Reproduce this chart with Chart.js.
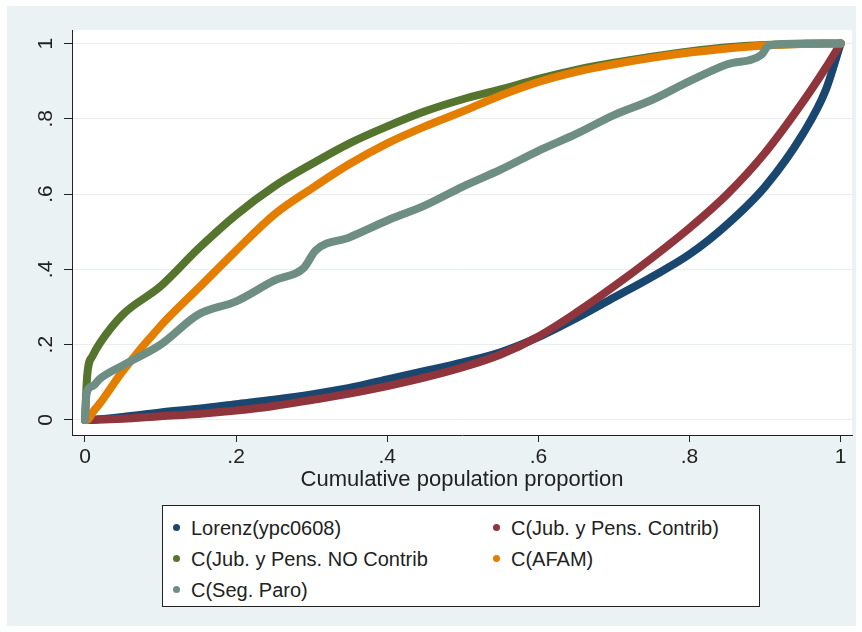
<!DOCTYPE html>
<html>
<head>
<meta charset="utf-8">
<script src="https://cdn.jsdelivr.net/npm/chart.js@4.4.1/dist/chart.umd.min.js"></script>
<style>
  body { margin: 0; background: #fff; }
  #wrap { position: relative; width: 862px; height: 632px; }
  #myChart { position: absolute; left: 0; top: 0; }
  #legend {
    position: absolute; left: 162px; top: 505px; width: 598px; height: 102px;
    box-sizing: border-box; border: 1px solid #222; background: #fff;
    font-family: "Liberation Sans", Arial, sans-serif; font-size: 20px; color: #222;
  }
  .item { position: absolute; height: 24px; line-height: 24px; white-space: nowrap; }
  .dot { position: absolute; left: -18px; top: 8px; width: 7px; height: 7px; border-radius: 50%; }
</style>
</head>
<body>
<div id="wrap">
  <canvas id="myChart" width="862" height="632"></canvas>
  <div id="legend"></div>
</div>
<script>
// cumulative population share (x) and concentration curve values (y)
const popShare = [0, 0.003, 0.01, 0.02, 0.05, 0.1, 0.15, 0.2, 0.25, 0.3, 0.35, 0.4, 0.45, 0.5,
  0.55, 0.6, 0.65, 0.7, 0.75, 0.8, 0.85, 0.9, 0.95, 0.98, 1];

const lorenzY = [0, 0, 0.001, 0.002, 0.008, 0.02, 0.03, 0.042, 0.054, 0.068, 0.085, 0.108, 0.13, 0.153,
  0.18, 0.22, 0.27, 0.325, 0.38, 0.44, 0.52, 0.62, 0.76, 0.875, 1];
const contribY = [0, 0, 0, 0.001, 0.003, 0.01, 0.016, 0.025, 0.037, 0.053, 0.07, 0.09, 0.113, 0.14,
  0.174, 0.222, 0.285, 0.355, 0.43, 0.51, 0.6, 0.71, 0.845, 0.935, 1];
const noContribY = [0, 0.12, 0.17, 0.205, 0.28, 0.355, 0.455, 0.545, 0.62, 0.68, 0.735, 0.78, 0.82, 0.852,
  0.878, 0.906, 0.93, 0.949, 0.965, 0.979, 0.99, 0.996, 0.999, 1, 1];
const afamY = [0, 0, 0.02, 0.045, 0.13, 0.25, 0.35, 0.45, 0.545, 0.615, 0.68, 0.735, 0.78, 0.82,
  0.862, 0.898, 0.925, 0.945, 0.962, 0.976, 0.987, 0.995, 0.999, 1, 1];

// Seg. Paro has its own steps
const segParoX = [0, 0.002, 0.01, 0.02, 0.05, 0.1, 0.15, 0.2, 0.25, 0.29, 0.305, 0.35, 0.4, 0.45, 0.5,
  0.55, 0.6, 0.65, 0.7, 0.75, 0.8, 0.85, 0.895, 0.905, 0.95, 1];
const segParoY = [0, 0.07, 0.09, 0.11, 0.145, 0.2, 0.28, 0.315, 0.37, 0.405, 0.45, 0.485, 0.53, 0.57, 0.62,
  0.665, 0.715, 0.76, 0.81, 0.85, 0.9, 0.945, 0.97, 0.995, 1, 1];

const tickVals = [0, 0.2, 0.4, 0.6, 0.8, 1];
const tickLabels = ["0", ".2", ".4", ".6", ".8", "1"];

const seriesNames = ["Lorenz(ypc0608)", "C(Jub. y Pens. Contrib)", "C(Jub. y Pens. NO Contrib",
  "C(AFAM)", "C(Seg. Paro)"];
const seriesColors = ["#1a476f", "#90353b", "#55752f", "#e37e00", "#6e8e84"];

const FONT = '"Liberation Sans", Arial, sans-serif';

function pts(xs, ys) {
  return xs.map((x, i) => ({ x: x, y: ys[i] }));
}

const seriesData = [
  pts(popShare, lorenzY),
  pts(popShare, contribY),
  pts(popShare, noContribY),
  pts(popShare, afamY),
  pts(segParoX, segParoY)
];

// background panel + white plot region
const panelBg = {
  id: "panelBg",
  beforeDraw(chart) {
    const c = chart.ctx, a = chart.chartArea;
    c.save();
    c.fillStyle = "#fff";
    c.fillRect(0, 0, chart.width, chart.height);
    c.fillStyle = "#eaf2f3";
    c.fillRect(7, 6, 849, 620);
    c.fillStyle = "#fff";
    c.fillRect(a.left, a.top, a.right - a.left, a.bottom - a.top);
    c.restore();
  }
};

// y tick labels are vertical in the original
const yLabels = {
  id: "yLabels",
  afterDraw(chart) {
    const c = chart.ctx, ys = chart.scales.y;
    c.save();
    c.fillStyle = "#222";
    c.font = "21px " + FONT;
    c.textAlign = "center";
    c.textBaseline = "middle";
    tickVals.forEach((v, i) => {
      c.save();
      c.translate(46, ys.getPixelForValue(v));
      c.rotate(-Math.PI / 2);
      c.fillText(tickLabels[i], 0, 0);
      c.restore();
    });
    c.restore();
  }
};

const ctx = document.getElementById("myChart").getContext("2d");

const myChart = new Chart(ctx, {
  type: "line",
  data: {
    datasets: seriesData.map((d, i) => ({
      label: seriesNames[i],
      data: d,
      borderColor: seriesColors[i],
      backgroundColor: seriesColors[i],
      borderWidth: 8,
      pointRadius: 0,
      fill: false,
      cubicInterpolationMode: "monotone",
      borderCapStyle: "round",
      borderJoinStyle: "round",
      order: 5 - i
    }))
  },
  options: {
    responsive: false,
    animation: false,
    layout: { padding: { left: 0, top: 30, right: 10, bottom: 137 } },
    plugins: { legend: { display: false }, tooltip: { enabled: false } },
    scales: {
      x: {
        type: "linear",
        min: -0.0172,
        max: 1.015,
        afterBuildTicks: (s) => { s.ticks = tickVals.map(v => ({ value: v })); },
        afterFit: (s) => { s.height = 60; },
        ticks: {
          callback: (v) => tickLabels[tickVals.indexOf(v)],
          color: "#222",
          font: { family: FONT, size: 21 },
          padding: 3,
          maxRotation: 0
        },
        grid: { drawOnChartArea: false, tickColor: "#222", tickLength: 7 },
        border: { color: "#222", width: 1 },
        title: {
          display: true,
          text: "Cumulative population proportion",
          color: "#222",
          font: { family: FONT, size: 22 },
          padding: { top: 0, bottom: 2 }
        }
      },
      y: {
        type: "linear",
        min: -0.04,
        max: 1.036,
        afterBuildTicks: (s) => { s.ticks = tickVals.map(v => ({ value: v })); },
        afterFit: (s) => { s.width = 72; },
        ticks: { display: false },
        grid: { color: "#e6eef0", lineWidth: 1, tickColor: "#222", tickLength: 8 },
        border: { color: "#222", width: 1 }
      }
    }
  },
  plugins: [panelBg, yLabels]
});

// legend box under the axis title
const legendPos = [
  [28, 10], [348, 10], [28, 41], [348, 41], [28, 72]
];
const legend = document.getElementById("legend");
seriesNames.forEach((name, i) => {
  const it = document.createElement("div");
  it.className = "item";
  it.style.left = legendPos[i][0] + "px";
  it.style.top = legendPos[i][1] + "px";
  const dot = document.createElement("span");
  dot.className = "dot";
  dot.style.background = seriesColors[i];
  it.appendChild(dot);
  it.appendChild(document.createTextNode(name));
  legend.appendChild(it);
});
</script>
</body>
</html>
